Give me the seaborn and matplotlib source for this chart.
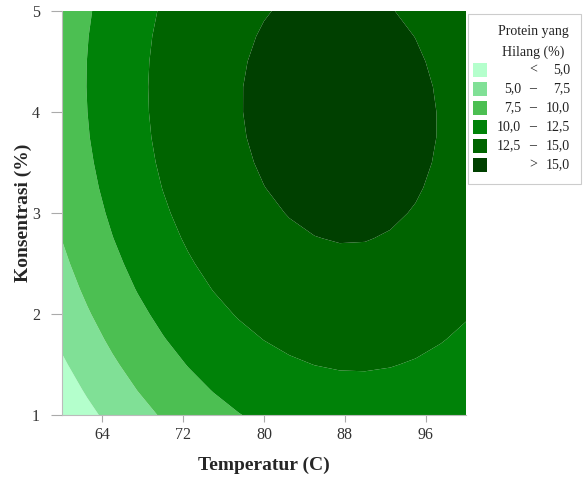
import numpy as np
import pandas as pd
import seaborn as sns
import matplotlib.pyplot as plt
from matplotlib.patches import Rectangle

# grid of response values (rows = konsentrasi, cols = temperatur)
temperatur = [60, 62.5, 65, 67.5, 70, 72.5, 75, 77.5, 80, 82.5, 85, 87.5, 90, 92.5, 95, 97.5, 100]
konsentrasi = [1.0, 1.25, 1.5, 1.75, 2.0, 2.25, 2.5, 2.75, 3.0, 3.25, 3.5, 3.75, 4.0, 4.25, 4.5, 4.75, 5.0]
protein_hilang = [
    [3.12, 4.45, 5.65, 6.75, 7.72, 8.58, 9.31, 9.93, 10.44, 10.82, 11.09, 11.24, 11.28, 11.19, 10.99, 10.67, 10.24],
    [3.94, 5.26, 6.46, 7.55, 8.51, 9.36, 10.09, 10.70, 11.20, 11.58, 11.84, 11.98, 12.01, 11.92, 11.71, 11.38, 10.94],
    [4.70, 6.01, 7.21, 8.28, 9.24, 10.08, 10.80, 11.41, 11.90, 12.27, 12.52, 12.66, 12.68, 12.58, 12.36, 12.02, 11.57],
    [5.40, 6.70, 7.89, 8.95, 9.90, 10.74, 11.45, 12.05, 12.53, 12.89, 13.14, 13.27, 13.28, 13.17, 12.95, 12.60, 12.15],
    [6.03, 7.32, 8.50, 9.56, 10.50, 11.33, 12.04, 12.63, 13.10, 13.46, 13.69, 13.81, 13.82, 13.70, 13.47, 13.12, 12.65],
    [6.60, 7.88, 9.05, 10.11, 11.04, 11.86, 12.56, 13.14, 13.61, 13.95, 14.18, 14.30, 14.29, 14.17, 13.93, 13.57, 13.10],
    [7.10, 8.38, 9.54, 10.58, 11.51, 12.32, 13.01, 13.59, 14.05, 14.39, 14.61, 14.71, 14.70, 14.57, 14.32, 13.96, 13.48],
    [7.54, 8.81, 9.96, 11.00, 11.92, 12.72, 13.41, 13.97, 14.42, 14.76, 14.97, 15.07, 15.05, 14.91, 14.65, 14.28, 13.79],
    [7.91, 9.17, 10.32, 11.35, 12.26, 13.06, 13.73, 14.29, 14.73, 15.06, 15.27, 15.36, 15.33, 15.18, 14.92, 14.54, 14.04],
    [8.22, 9.48, 10.61, 11.64, 12.54, 13.33, 14.00, 14.55, 14.98, 15.30, 15.50, 15.58, 15.55, 15.39, 15.12, 14.73, 14.23],
    [8.46, 9.71, 10.84, 11.86, 12.76, 13.53, 14.20, 14.74, 15.17, 15.48, 15.67, 15.74, 15.70, 15.54, 15.26, 14.86, 14.35],
    [8.64, 9.89, 11.01, 12.02, 12.91, 13.68, 14.33, 14.87, 15.29, 15.59, 15.77, 15.84, 15.79, 15.62, 15.33, 14.93, 14.41],
    [8.76, 9.99, 11.11, 12.11, 12.99, 13.75, 14.40, 14.93, 15.34, 15.63, 15.81, 15.87, 15.81, 15.63, 15.34, 14.93, 14.40],
    [8.81, 10.04, 11.15, 12.14, 13.01, 13.77, 14.41, 14.93, 15.33, 15.62, 15.79, 15.84, 15.77, 15.59, 15.29, 14.87, 14.33],
    [8.80, 10.02, 11.12, 12.10, 12.97, 13.72, 14.35, 14.86, 15.26, 15.54, 15.70, 15.74, 15.67, 15.48, 15.17, 14.74, 14.20],
    [8.73, 9.94, 11.03, 12.01, 12.86, 13.60, 14.23, 14.73, 15.12, 15.39, 15.55, 15.58, 15.50, 15.30, 14.98, 14.55, 14.00],
    [8.59, 9.79, 10.87, 11.84, 12.69, 13.43, 14.04, 14.54, 14.92, 15.18, 15.33, 15.36, 15.27, 15.06, 14.73, 14.29, 13.73],
]
batas = [0, 5.0, 7.5, 10.0, 12.5, 15.0, 20]
warna = ["#b4ffcc", "#80e096", "#4cbf52", "#008208", "#006400", "#004000"]
label_kiri = ["", "5,0", "7,5", "10,0", "12,5", ""]
label_tengah = ["<", "–", "–", "–", "–", ">"]
label_kanan = ["5,0", "7,5", "10,0", "12,5", "15,0", "15,0"]

df = pd.DataFrame(protein_hilang, index=konsentrasi, columns=temperatur)

sns.set_theme(style="ticks")
plt.rcParams["font.family"] = ["Liberation Serif", "DejaVu Serif"]

fig = plt.figure(figsize=(5.84, 4.8), dpi=100)
ax = fig.add_axes([62 / 584, 1 - 415 / 480, 404 / 584, 404 / 480])

X, Y = np.meshgrid(df.columns.values, df.index.values)
ax.contourf(X, Y, df.values, levels=batas, colors=warna, antialiased=True)

ax.set_xlim(60, 100)
ax.set_ylim(1, 5)
ax.set_xticks([64, 72, 80, 88, 96])
ax.set_yticks([1, 2, 3, 4, 5])
ax.tick_params(colors="#aaaaaa", labelcolor="#333333", labelsize=11.5, length=5, width=0.8)
ax.tick_params(axis="y", length=8, pad=8)
for s in ["top", "right"]:
    ax.spines[s].set_visible(False)
for s in ["left", "bottom"]:
    ax.spines[s].set_color("#bbbbbb")
    ax.spines[s].set_linewidth(0.8)

ax.set_xlabel("Temperatur (C)", fontsize=14, fontweight="bold", labelpad=10)
ax.set_ylabel("Konsentrasi (%)", fontsize=14, fontweight="bold", labelpad=0)

# legend box, drawn by hand like the original
W, H = 584, 480
fig.patches.append(Rectangle((468 / W, 1 - 184 / H), 113 / W, 170 / H, transform=fig.transFigure,
                             facecolor="white", edgecolor="#cccccc", linewidth=0.8))
fig.text(533 / W, 1 - 31 / H, "Protein yang", ha="center", va="center", fontsize=10, color="#222222")
fig.text(533 / W, 1 - 52 / H, "Hilang (%)", ha="center", va="center", fontsize=10, color="#222222")
for i, c in enumerate(warna):
    yc = 70 + 19 * i
    fig.patches.append(Rectangle((473 / W, 1 - (yc + 7) / H), 14 / W, 14 / H, transform=fig.transFigure,
                                 facecolor=c, edgecolor="none"))
    fig.text(521 / W, 1 - yc / H, label_kiri[i], ha="right", va="center", fontsize=10, color="#222222")
    fig.text(533 / W, 1 - yc / H, label_tengah[i], ha="center", va="center", fontsize=10, color="#222222")
    fig.text(570 / W, 1 - yc / H, label_kanan[i], ha="right", va="center", fontsize=10, color="#222222")

fig.savefig("out.png", dpi=100)
